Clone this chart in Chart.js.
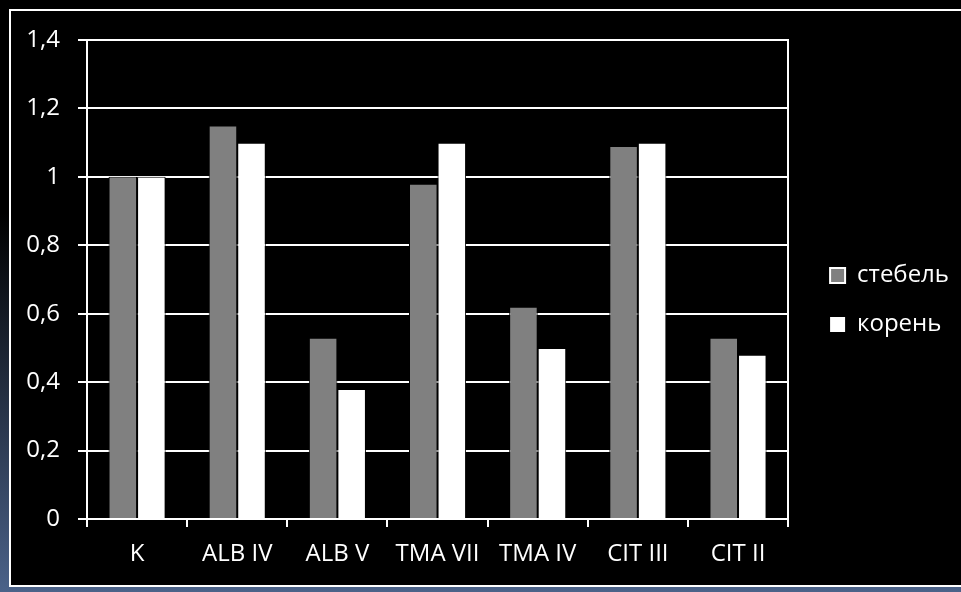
<!DOCTYPE html>
<html>
<head>
<meta charset="utf-8">
<script src="https://cdn.jsdelivr.net/npm/chart.js@4"></script>
<style>
  html, body { margin: 0; padding: 0; width: 961px; height: 592px; overflow: hidden; }
  body { background: linear-gradient(to bottom, #000 0%, #000 36%, #4b6289 100%); position: relative; }
  #frame {
    position: absolute; left: 9px; top: 9px; width: 980px; height: 574px;
    border: 2px solid #fff; background: #000;
  }
  #wrap { position: absolute; left: 0; top: 0; width: 948px; height: 574px; }
</style>
</head>
<body>
<div id="frame"><div id="wrap"><canvas id="chart"></canvas></div></div>
<script>
// Categories and the two series (стебель / корень)
const categories = ['K', 'ALB IV', 'ALB V', 'TMA VII', 'TMA IV', 'CIT III', 'CIT II'];
const stemValues = [1.0, 1.15, 0.53, 0.98, 0.62, 1.09, 0.53];
const rootValues = [1.0, 1.10, 0.38, 1.10, 0.50, 1.10, 0.48];
const seriesNames = ['стебель', 'корень'];

const FONT = "'Open Sans', sans-serif";
const fontSize = 24;

Chart.defaults.font.family = FONT;
Chart.defaults.font.size = fontSize;
Chart.defaults.color = '#fff';

function formatTick(v) {
    return String(Math.round(v * 10) / 10).replace('.', ',');
}

// the bottom padding only lifts the legend; let the category labels use that strip
const labelRoom = {
    id: 'labelRoom',
    afterLayout(chart) {
        chart.scales.x.bottom = chart.height;
    }
};

new Chart(document.getElementById('chart'), {
    type: 'bar',
    data: {
        labels: categories,
        datasets: [{
            label: seriesNames[0],
            data: stemValues,
            backgroundColor: '#808080',
            borderColor: '#000',
            borderWidth: 1
        }, {
            label: seriesNames[1],
            data: rootValues,
            backgroundColor: '#ffffff',
            borderColor: '#000',
            borderWidth: 1
        }]
    },
    plugins: [labelRoom],
    options: {
        responsive: true,
        maintainAspectRatio: false,
        animation: false,
        categoryPercentage: 0.57,
        barPercentage: 1.0,
        layout: { padding: { top: 29, right: 0, bottom: 25, left: 0 } },
        scales: {
            x: {
                grid: {
                    drawOnChartArea: false,
                    color: '#fff',
                    lineWidth: 2,
                    tickLength: 8,
                    offset: true
                },
                border: { color: '#fff', width: 2 },
                ticks: { padding: 13, color: '#fff' },
                afterFit: scale => { scale.height = 41; }
            },
            y: {
                min: 0,
                max: 1.4,
                ticks: {
                    stepSize: 0.2,
                    padding: 18,
                    color: '#fff',
                    callback: v => formatTick(v)
                },
                grid: { color: '#fff', lineWidth: 2, tickLength: 9 },
                border: { color: '#fff', width: 2 },
                afterFit: scale => {
                    scale.width = 76;
                    scale.paddingTop = 0;
                    scale.paddingBottom = 0;
                }
            },
            // right-hand frame of the plot area
            y2: {
                position: 'right',
                min: 0,
                max: 1.4,
                ticks: { display: false },
                grid: { display: false },
                border: { color: '#fff', width: 2 },
                afterFit: scale => { scale.width = 17; }
            }
        },
        plugins: {
            tooltip: { enabled: false },
            legend: {
                position: 'right',
                align: 'center',
                labels: {
                    boxWidth: 15,
                    boxHeight: 15,
                    padding: 25,
                    color: '#fff',
                    generateLabels: chart => {
                        const items = Chart.defaults.plugins.legend.labels.generateLabels(chart);
                        items[0].strokeStyle = '#fff';
                        items[0].lineWidth = 2;
                        items[1].strokeStyle = '#fff';
                        items[1].lineWidth = 0;
                        return items;
                    }
                }
            }
        }
    }
});
</script>
</body>
</html>
